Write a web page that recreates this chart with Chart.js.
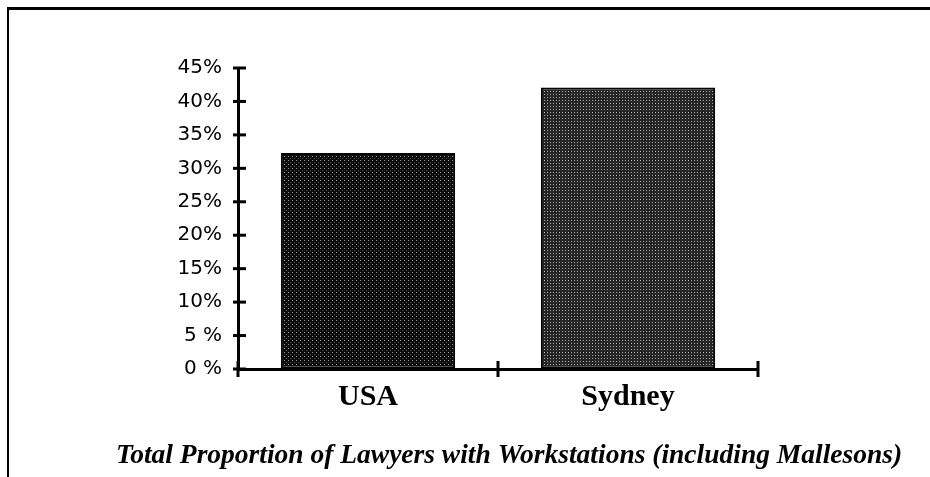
<!DOCTYPE html>
<html>
<head>
<meta charset="utf-8">
<script src="https://cdn.jsdelivr.net/npm/chart.js@4/dist/chart.umd.min.js"></script>
<style>
    html, body { margin: 0; padding: 0; background: #fff; }
    #wrap { position: relative; width: 930px; height: 477px; overflow: hidden; }
    #frame {
        position: absolute; left: 7px; top: 7px; right: -10px; bottom: -10px;
        border-top: 3px solid #000; border-left: 2px solid #000;
    }
    canvas { position: absolute; left: 0; top: 0; }
</style>
</head>
<body>
<div id="wrap">
    <div id="frame"></div>
    <canvas id="chart" width="930" height="477"></canvas>
</div>
<script>
// Datos
const categories = ['USA', 'Sydney'];
const workstationShare = [32.3, 42.1];
const yTicks = [0, 5, 10, 15, 20, 25, 30, 35, 40, 45];
const chartTitle = 'Total Proportion of Lawyers with Workstations (including Mallesons)';

// Trama punteada para las barras
function makeDots(bg, dots, size) {
    const c = document.createElement('canvas');
    c.width = size;
    c.height = size;
    const g = c.getContext('2d');
    g.fillStyle = bg;
    g.fillRect(0, 0, size, size);
    dots.forEach(d => {
        g.fillStyle = d[2];
        g.fillRect(d[0], d[1], 1, 1);
    });
    return g.createPattern(c, 'repeat');
}

const usaFill = makeDots('#0c0c0c', [[0, 0, '#9a9a9a'], [2, 2, '#505050']], 4);
const sydFill = makeDots('#262626', [[1, 1, '#aaaaaa']], 3);

// Marcas de graduación que cruzan los ejes
const crossTicks = {
    id: 'crossTicks',
    afterDraw(chart) {
        const ctx = chart.ctx;
        const y = chart.scales.y;
        const x = chart.scales.x;
        ctx.save();
        ctx.strokeStyle = '#000';
        ctx.lineWidth = 3;
        yTicks.forEach(v => {
            const py = y.getPixelForValue(v);
            ctx.beginPath();
            ctx.moveTo(x.left - 5, py);
            ctx.lineTo(x.left + 8, py);
            ctx.stroke();
        });
        for (let i = 0; i <= categories.length; i++) {
            const px = x.getPixelForValue(i - 0.5);
            ctx.beginPath();
            ctx.moveTo(px, y.bottom - 8);
            ctx.lineTo(px, y.bottom + 8);
            ctx.stroke();
        }
        ctx.restore();
    }
};

new Chart(document.getElementById('chart'), {
    type: 'bar',
    data: {
        labels: categories,
        datasets: [{
            data: workstationShare,
            backgroundColor: [usaFill, sydFill],
            borderColor: '#000',
            borderWidth: 2,
            borderSkipped: false,
            barPercentage: 1,
            categoryPercentage: 0.67
        }]
    },
    options: {
        responsive: false,
        animation: false,
        events: [],
        layout: {
            padding: { left: 88, right: 0, top: 68, bottom: 5 }
        },
        plugins: {
            legend: { display: false },
            tooltip: { enabled: false },
            title: {
                display: true,
                position: 'bottom',
                text: chartTitle,
                color: '#000',
                padding: 0,
                font: { family: '"Liberation Serif", serif', size: 27.5, weight: 'bold', style: 'italic', lineHeight: 1.2 }
            }
        },
        scales: {
            x: {
                afterFit: s => { s.height = 70; },
                grid: { display: true, drawOnChartArea: false, drawTicks: false, color: 'rgba(0,0,0,0)' },
                border: { display: true, color: '#000', width: 3 },
                ticks: {
                    padding: 10,
                    color: '#000',
                    font: { family: '"Liberation Serif", serif', size: 30, weight: 'bold' }
                }
            },
            y: {
                min: 0,
                max: 45,
                afterFit: s => { s.width = 150; },
                afterBuildTicks: s => { s.ticks = yTicks.map(v => ({ value: v })); },
                grid: { display: true, drawOnChartArea: false, drawTicks: false, color: 'rgba(0,0,0,0)' },
                border: { display: true, color: '#000', width: 3 },
                ticks: {
                    padding: 16,
                    color: '#000',
                    font: { family: '"DejaVu Sans", sans-serif', size: 20 },
                    callback: v => (v < 10 ? v + ' %' : v + '%')
                }
            },
            // eje vacío a la derecha, solo reserva el margen
            yRight: {
                position: 'right',
                min: 0,
                max: 45,
                afterFit: s => { s.width = 172; },
                grid: { display: false },
                border: { display: false },
                ticks: { display: false }
            }
        }
    },
    plugins: [crossTicks]
});
</script>
</body>
</html>
